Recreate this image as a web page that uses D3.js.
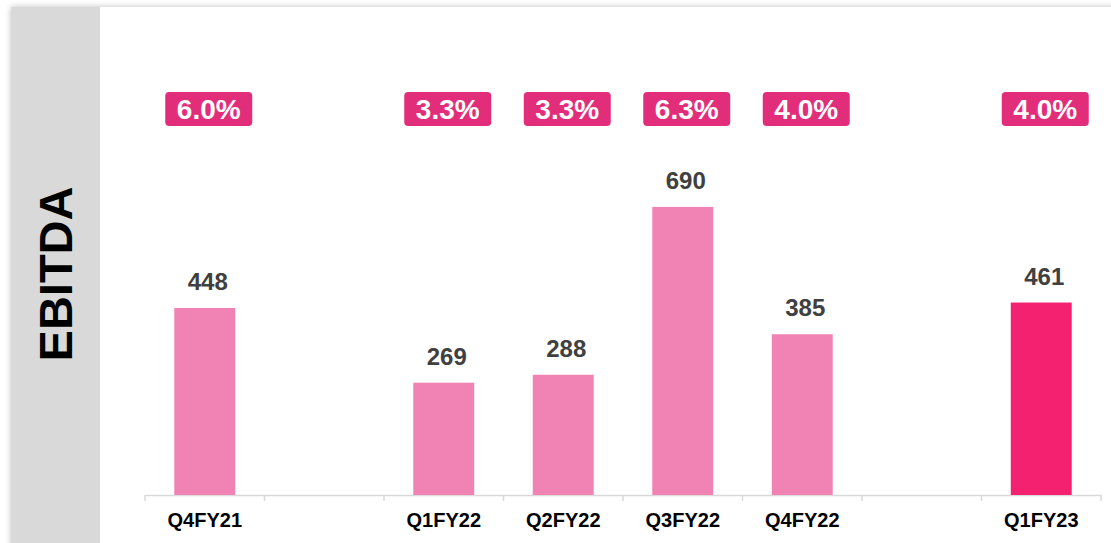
<!DOCTYPE html>
<html>
<head>
<meta charset="utf-8">
<script src="https://cdn.jsdelivr.net/npm/d3@7"></script>
<style>
  html, body { margin: 0; padding: 0; background: #ffffff; }
  svg { display: block; font-family: Arial, "Liberation Sans", sans-serif; }
</style>
</head>
<body>
<svg id="chart" width="1111" height="543"></svg>
<script>
// Quarterly EBITDA with EBITDA margin badges
const categories = ["Q4FY21", "", "Q1FY22", "Q2FY22", "Q3FY22", "Q4FY22", "", "Q1FY23"];
const ebitda     = [448, null, 269, 288, 690, 385, null, 461];
const margins    = ["6.0%", null, "3.3%", "3.3%", "6.3%", "4.0%", null, "4.0%"];
const highlight  = [false, false, false, false, false, false, false, true];

const svg = d3.select("#chart");
const W = 1111, H = 543;

// card with soft shadow
const defs = svg.append("defs");
const f = defs.append("filter").attr("id", "shadow")
  .attr("x", "-5%").attr("y", "-5%").attr("width", "110%").attr("height", "110%");
f.append("feDropShadow").attr("dx", 0).attr("dy", 0).attr("stdDeviation", 3)
  .attr("flood-color", "#000").attr("flood-opacity", 0.25);

svg.append("rect").attr("x", 11).attr("y", 7).attr("width", W + 20).attr("height", H + 20)
  .attr("fill", "#ffffff").attr("filter", "url(#shadow)");
svg.append("rect").attr("x", 11).attr("y", 7).attr("width", 89).attr("height", H + 20)
  .attr("fill", "#d9d9d9");

// side title
svg.append("text")
  .attr("transform", "translate(72,274) rotate(-90)")
  .attr("text-anchor", "middle")
  .attr("font-size", 47).attr("font-weight", "bold").attr("fill", "#000")
  .text("EBITDA");

const x = d3.scaleBand().domain(d3.range(categories.length)).range([145, 1101]).padding(0);
const baseY = 495;
const y = d3.scaleLinear().domain([0, 1000]).range([baseY, baseY - 417.5]);
const barW = x.bandwidth() * 0.51;

// axis
const axis = d3.axisBottom(x).tickSize(0).tickFormat(i => categories[i]);
const gAxis = svg.append("g").attr("transform", `translate(0,${baseY})`).call(axis);
gAxis.select(".domain").attr("stroke", "#d9d9d9").attr("stroke-width", 1.5);
gAxis.selectAll(".tick text")
  .attr("y", 32).attr("dy", 0)
  .attr("font-size", 20).attr("font-weight", "bold").attr("fill", "#000")
  .attr("font-family", "Arial, 'Liberation Sans', sans-serif");
// category separators
const edges = d3.range(categories.length + 1).map(i => 145 + i * x.step());
svg.append("g").selectAll("line").data(edges).join("line")
  .attr("x1", d => d).attr("x2", d => d)
  .attr("y1", baseY).attr("y2", baseY + 6)
  .attr("stroke", "#d9d9d9").attr("stroke-width", 1.5);

const idx = d3.range(categories.length).filter(i => ebitda[i] != null);

// bars
svg.append("g").selectAll("rect").data(idx).join("rect")
  .attr("x", i => x(i) + (x.bandwidth() - barW) / 2)
  .attr("width", barW)
  .attr("y", i => y(ebitda[i]))
  .attr("height", i => baseY - y(ebitda[i]))
  .attr("fill", i => highlight[i] ? "#f42170" : "#f083b3");

// value labels
svg.append("g").selectAll("text").data(idx).join("text")
  .attr("x", i => x(i) + x.bandwidth() / 2 + 3)
  .attr("y", i => y(ebitda[i]) - 18)
  .attr("text-anchor", "middle")
  .attr("font-size", 24).attr("font-weight", "bold").attr("fill", "#404040")
  .text(i => ebitda[i]);

// margin badges
const mIdx = d3.range(categories.length).filter(i => margins[i] != null);
const badge = svg.append("g").selectAll("g").data(mIdx).join("g")
  .attr("transform", i => `translate(${x(i) + x.bandwidth() / 2 + 4},109)`);
badge.append("rect")
  .attr("x", -43.5).attr("y", -17).attr("width", 87).attr("height", 34)
  .attr("rx", 4).attr("fill", "#e22e7a");
badge.append("text")
  .attr("text-anchor", "middle").attr("y", 10)
  .attr("font-size", 28).attr("font-weight", "bold").attr("fill", "#ffffff")
  .text(i => margins[i]);
</script>
</body>
</html>
